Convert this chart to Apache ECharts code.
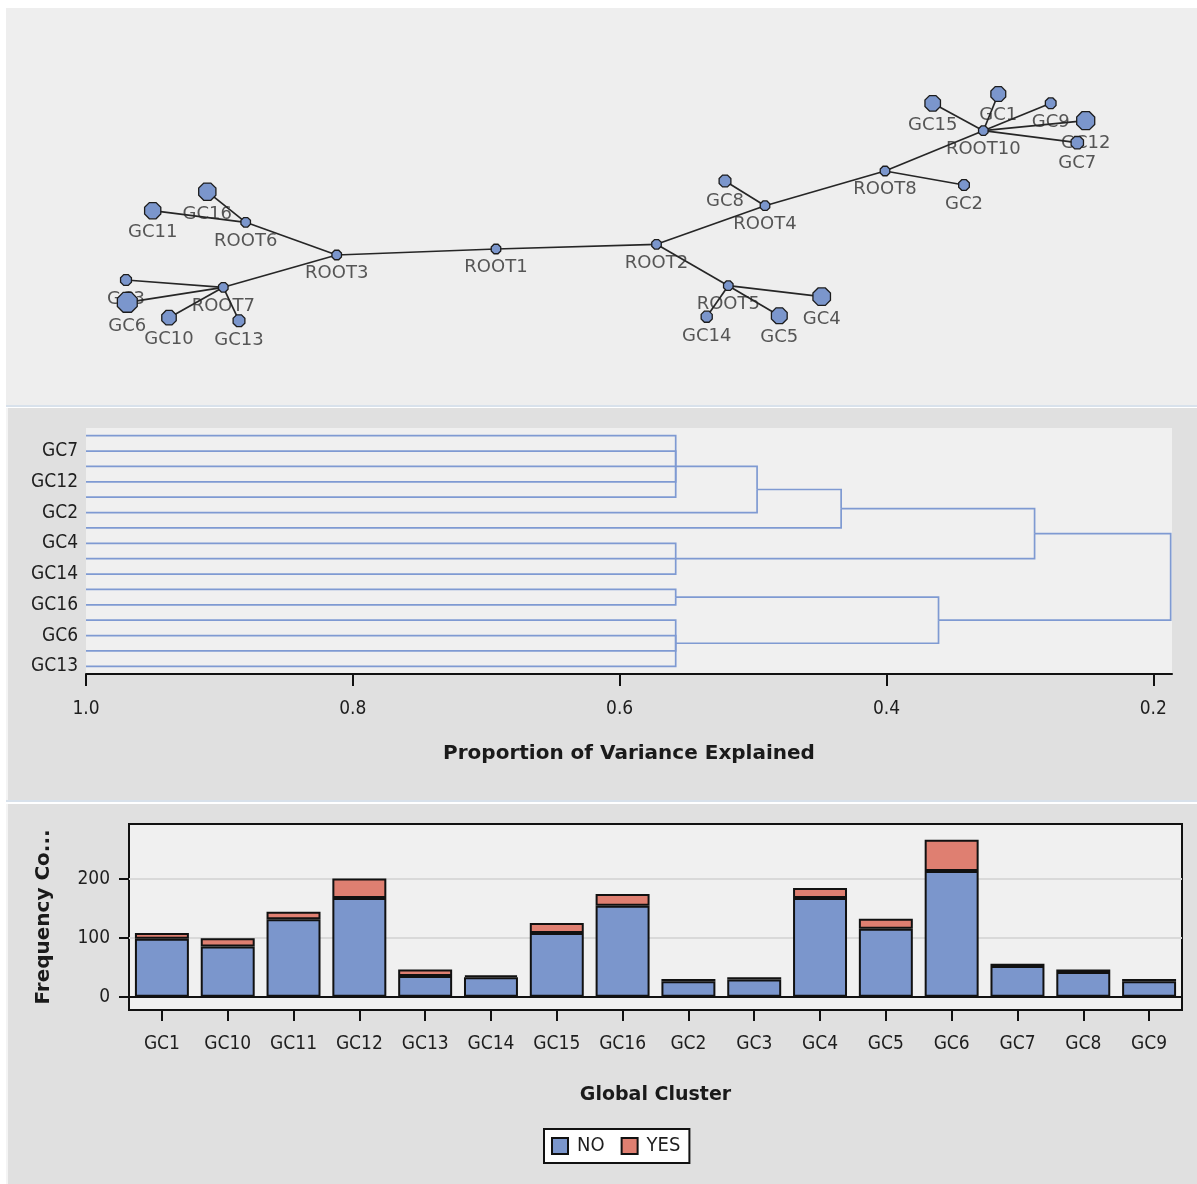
<!DOCTYPE html>
<html>
<head>
<meta charset="utf-8">
<script src="https://cdn.jsdelivr.net/npm/echarts@6/dist/echarts.min.js"></script>
<style>
  html, body { margin: 0; padding: 0; background: #ffffff; }
  body { width: 1197px; height: 1184px; position: relative; overflow: hidden; }
  .panel { position: absolute; box-sizing: border-box; }
  #chart { position: absolute; left: 0; top: 0; width: 1197px; height: 1184px; }
</style>
</head>
<body>
<div class="panel" style="left:6px;top:8px;width:1191px;height:397px;background:#eeeeee"></div>
<div class="panel" style="left:6px;top:405px;width:1191px;height:2px;background:#d8e1eb"></div>
<div class="panel" style="left:6px;top:408px;width:1191px;height:392px;background:#e0e0e0;border-left:2px solid #f4f4f4"></div>
<div class="panel" style="left:6px;top:800px;width:1191px;height:2px;background:#d8e1eb"></div>
<div class="panel" style="left:6px;top:804px;width:1191px;height:380px;background:#e0e0e0;border-left:2px solid #f4f4f4"></div>
<div id="chart"></div>
<script>
// ---- cluster hierarchy ----
const rootNames   = ['ROOT1', 'ROOT2', 'ROOT3', 'ROOT4', 'ROOT5', 'ROOT6', 'ROOT7', 'ROOT8', 'ROOT10'];
const rootParents = [null,    'ROOT1', 'ROOT1', 'ROOT2', 'ROOT2', 'ROOT3', 'ROOT3', 'ROOT4', 'ROOT8'];
const rootHeights = [0.187,   0.289,   0.361,   0.434,   0.558,   0.558,   0.558,   0.497,   0.558];

// leaves in dendrogram order (top to bottom) and the node each one joins
const leafOrder   = ['GC1', 'GC7', 'GC9', 'GC12', 'GC15', 'GC2', 'GC8', 'GC4', 'GC5', 'GC14', 'GC11', 'GC16', 'GC3', 'GC6', 'GC10', 'GC13'];
const leafParents = ['ROOT10', 'ROOT10', 'ROOT10', 'ROOT10', 'ROOT10', 'ROOT8', 'ROOT4', 'ROOT5', 'ROOT5', 'ROOT5', 'ROOT6', 'ROOT6', 'ROOT7', 'ROOT7', 'ROOT7', 'ROOT7'];

// ---- network map layout (layout units) ----
const mapNames = ['ROOT1', 'ROOT2', 'ROOT3', 'ROOT4', 'ROOT5', 'ROOT6', 'ROOT7', 'ROOT8', 'ROOT10',
                  'GC1', 'GC2', 'GC3', 'GC4', 'GC5', 'GC6', 'GC7', 'GC8',
                  'GC9', 'GC10', 'GC11', 'GC12', 'GC13', 'GC14', 'GC15', 'GC16'];
const mapX = [496, 656.5, 336.7, 765, 728.3, 245.7, 223.3, 885, 983.3,
              998.3, 964, 126, 821.7, 779.3, 127.3, 1077.3, 725,
              1050.7, 169, 152.7, 1085.7, 239, 706.7, 932.7, 207.3];
const mapY = [249, 244.3, 255, 205.7, 285.7, 222.3, 287.3, 171, 130.7,
              94, 185, 280, 296.7, 315.7, 302.3, 142.7, 181,
              103.3, 317.7, 210.7, 120.7, 320.7, 316.7, 103.3, 191.7];

// ---- frequency counts by global cluster ----
const clusters = ['GC1', 'GC10', 'GC11', 'GC12', 'GC13', 'GC14', 'GC15', 'GC16', 'GC2', 'GC3', 'GC4', 'GC5', 'GC6', 'GC7', 'GC8', 'GC9'];
const countNo  = [98, 85, 131, 167, 35, 33, 108, 154, 26, 29, 167, 115, 213, 52, 42, 26];
const countYes = [10, 14, 13, 33, 11, 3, 17, 20, 4, 4, 17, 17, 53, 4, 4, 4];
const responseNames = ['NO', 'YES'];

// ---- axis ticks ----
const varianceTicks = [1.0, 0.8, 0.6, 0.4, 0.2];
const freqTicks = [0, 100, 200];

// ---- derived structures ----
const parentOf = {};
const heightOf = {};
rootNames.forEach((n, i) => { parentOf[n] = rootParents[i]; heightOf[n] = rootHeights[i]; });
leafOrder.forEach((n, i) => { parentOf[n] = leafParents[i]; heightOf[n] = 1.0; });

const childrenOf = {};
Object.keys(parentOf).forEach(n => {
  const p = parentOf[n];
  if (p) (childrenOf[p] = childrenOf[p] || []).push(n);
});

const rowOf = {};
function placeRow(n) {
  if (rowOf[n] !== undefined) return rowOf[n];
  const i = leafOrder.indexOf(n);
  if (i >= 0) return (rowOf[n] = i);
  const rows = childrenOf[n].map(placeRow);
  return (rowOf[n] = (Math.min(...rows) + Math.max(...rows)) / 2);
}
Object.keys(parentOf).forEach(placeRow);

// elbow from each node to the node it merges into
const dendroPaths = Object.keys(parentOf).filter(n => parentOf[n]).map(n => {
  const p = parentOf[n];
  return { coords: [[heightOf[n], rowOf[n]], [heightOf[p], rowOf[n]], [heightOf[p], rowOf[p]]] };
});

const totalOf = {};
clusters.forEach((c, i) => { totalOf[c] = countNo[i] + countYes[i]; });
const nodeSize = n => (totalOf[n] ? 6 + 0.85 * Math.sqrt(totalOf[n]) : 9.5);

const mapNodes = mapNames.map((n, i) => ({ name: n, value: [mapX[i], mapY[i]], symbolSize: nodeSize(n) }));
const mapLinks = mapNames.filter(n => parentOf[n]).map(n => ({ source: n, target: parentOf[n] }));

const octagon = 'path://M2.93,0L7.07,0L10,2.93L10,7.07L7.07,10L2.93,10L0,7.07L0,2.93Z';
const tickFont = "'DejaVu Sans Condensed', 'DejaVu Sans', sans-serif";
const titleFont = "'DejaVu Sans', sans-serif";

const chart = echarts.init(document.getElementById('chart'), null, { renderer: 'canvas' });

chart.setOption({
  backgroundColor: 'transparent',
  animation: false,
  legend: {
    data: responseNames,
    left: 544,
    top: 1129,
    orient: 'horizontal',
    backgroundColor: '#ffffff',
    borderColor: '#111111',
    borderWidth: 2,
    borderRadius: 0,
    padding: [7, 9, 7, 7],
    itemWidth: 16,
    itemHeight: 16,
    itemGap: 16,
    icon: 'rect',
    textStyle: { fontFamily: tickFont, fontSize: 20, color: '#1e1e1e', padding: [0, 0, 0, 4] },
    selectedMode: false
  },
  grid: [
    { left: 0, top: 0, width: 1197, height: 405, show: false },
    { left: 86, top: 428, width: 1086, height: 246, show: true, backgroundColor: '#f0f0f0', borderWidth: 0 },
    { left: 129, top: 824, width: 1053, height: 186, show: true, backgroundColor: '#f0f0f0', borderColor: '#111111', borderWidth: 2 }
  ],
  xAxis: [
    { gridIndex: 0, type: 'value', min: 0, max: 1197, show: false },
    {
      gridIndex: 1, type: 'value', min: 0.186, max: 1.0, inverse: true, position: 'bottom',
      axisLine: { show: true, onZero: false, lineStyle: { color: '#111111', width: 2 } },
      axisTick: { show: true, length: 12, customValues: varianceTicks, lineStyle: { color: '#111111', width: 2 } },
      axisLabel: { customValues: varianceTicks, formatter: v => v.toFixed(1), margin: 26,
                   fontFamily: tickFont, fontSize: 19, color: '#1e1e1e' },
      splitLine: { show: false },
      name: 'Proportion of Variance Explained',
      nameLocation: 'middle',
      nameGap: 70,
      nameTextStyle: { fontFamily: titleFont, fontWeight: 'bold', fontSize: 20, color: '#1a1a1a' }
    },
    {
      gridIndex: 2, type: 'category', data: clusters, boundaryGap: true, position: 'bottom',
      axisLine: { show: false, onZero: false },
      axisTick: { show: true, alignWithLabel: true, length: 11, lineStyle: { color: '#111111', width: 2 } },
      axisLabel: { margin: 25, interval: 0, fontFamily: tickFont, fontSize: 19, color: '#1e1e1e' },
      name: 'Global Cluster',
      nameLocation: 'middle',
      nameGap: 76,
      nameTextStyle: { fontFamily: titleFont, fontWeight: 'bold', fontSize: 19, color: '#1a1a1a' }
    }
  ],
  yAxis: [
    { gridIndex: 0, type: 'value', min: 0, max: 405, inverse: true, show: false },
    {
      gridIndex: 1, type: 'value', min: -0.5, max: leafOrder.length - 0.5, inverse: true,
      axisLine: { show: false, onZero: false },
      axisTick: { show: false },
      splitLine: { show: false },
      axisLabel: {
        customValues: leafOrder.map((_, i) => i).filter(i => i % 2 === 1),
        formatter: v => leafOrder[Math.round(v)],
        margin: 8, fontFamily: tickFont, fontSize: 19, color: '#1e1e1e'
      }
    },
    {
      gridIndex: 2, type: 'value', min: -22.5, max: 292.5,
      axisLine: { show: false, onZero: false },
      axisTick: { show: true, length: 10, customValues: freqTicks, lineStyle: { color: '#111111', width: 2 } },
      axisLabel: { customValues: freqTicks, margin: 19, fontFamily: tickFont, fontSize: 19, color: '#1e1e1e' },
      splitLine: { show: true, lineStyle: { color: '#d9d9d9', width: 2 } },
      name: 'Frequency Co...',
      nameLocation: 'middle',
      nameGap: 75,
      nameTextStyle: { fontFamily: titleFont, fontWeight: 'bold', fontSize: 20, color: '#1a1a1a' }
    }
  ],
  series: [
    // node names sit underneath the links and nodes
    {
      type: 'scatter', xAxisIndex: 0, yAxisIndex: 0, z: 1, silent: true,
      symbol: octagon,
      data: mapNodes,
      itemStyle: { color: 'rgba(0,0,0,0)' },
      label: { show: true, position: 'bottom', distance: 5, formatter: '{b}',
               fontFamily: titleFont, fontSize: 18, color: '#2e2e2e' },
      emphasis: { disabled: true }
    },
    {
      type: 'graph', coordinateSystem: 'cartesian2d', xAxisIndex: 0, yAxisIndex: 0, z: 3,
      silent: true, roam: false,
      symbol: octagon,
      data: mapNodes,
      links: mapLinks,
      itemStyle: { color: '#7b96cc', borderColor: '#1c1c1c', borderWidth: 1.3 },
      lineStyle: { color: '#262626', width: 1.7, opacity: 1, curveness: 0 },
      label: { show: false },
      emphasis: { disabled: true }
    },
    {
      type: 'lines', coordinateSystem: 'cartesian2d', xAxisIndex: 1, yAxisIndex: 1,
      polyline: true, silent: true, z: 3,
      data: dendroPaths,
      lineStyle: { color: '#7f9ad2', width: 1.7, opacity: 1 }
    },
    {
      name: responseNames[0], type: 'bar', xAxisIndex: 2, yAxisIndex: 2, stack: 'resp',
      data: countNo, barCategoryGap: '18%',
      itemStyle: { color: '#7b96cc', borderColor: '#111111', borderWidth: 2 },
      emphasis: { disabled: true },
      markLine: {
        silent: true, symbol: ['none', 'none'], label: { show: false },
        lineStyle: { color: '#111111', width: 2, type: 'solid' },
        data: [{ yAxis: 0 }]
      }
    },
    {
      name: responseNames[1], type: 'bar', xAxisIndex: 2, yAxisIndex: 2, stack: 'resp',
      data: countYes, barCategoryGap: '18%',
      itemStyle: { color: '#df7f71', borderColor: '#111111', borderWidth: 2 },
      emphasis: { disabled: true }
    }
  ]
});
</script>
</body>
</html>
